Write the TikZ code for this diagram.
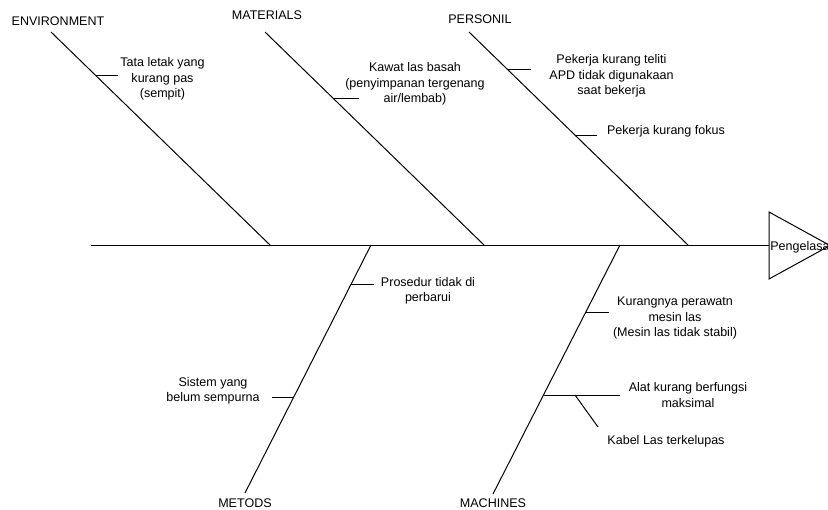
\documentclass[tikz,border=0pt]{standalone}
\usepackage{fontspec}
\setmainfont{Liberation Sans}
\begin{document}
\begin{tikzpicture}[x=0.75pt,y=-0.75pt,
  bone/.style={line width=0.75pt, line cap=butt},
  lbl/.style={font=\fontsize{9.4}{11.6}\selectfont, align=center, inner sep=0pt, text=black}]
\useasboundingbox (0,0) rectangle (828,510);

% spine and head
\coordinate (sp0) at (91,245);
\coordinate (t1) at (769,212);
\coordinate (t2) at (830,245.5);
\coordinate (t3) at (769,279);
\coordinate (sp1) at (769,245);
\draw[bone] (sp0) -- (sp1);
\draw[bone] (t1) -- (t2) -- (t3) -- cycle;
\node[lbl, anchor=west] (head) at (770,247) {Pengelasa};

% bone ends
\coordinate (envA) at (51,32);   \coordinate (envB) at (270,245);
\coordinate (matA) at (265,32);  \coordinate (matB) at (484,245);
\coordinate (perA) at (469,32);  \coordinate (perB) at (688,245);
\coordinate (metA) at (245,493); \coordinate (metB) at (371,245);
\coordinate (macA) at (493,494); \coordinate (macB) at (620,245);
\draw[bone] (envA) -- (envB);
\draw[bone] (matA) -- (matB);
\draw[bone] (perA) -- (perB);
\draw[bone] (metA) -- (metB);
\draw[bone] (macA) -- (macB);

% category labels
\node[lbl] (env) at (58,21) {ENVIRONMENT};
\node[lbl] (mat) at (267,15) {MATERIALS};
\node[lbl] (per) at (480,19) {PERSONIL};
\node[lbl] (met) at (245,503) {METODS};
\node[lbl] (mac) at (493,503) {MACHINES};

% ribs
\coordinate (r1a) at (96,76);    \coordinate (r1b) at (118,76);
\coordinate (r2a) at (334,99);   \coordinate (r2b) at (359,99);
\coordinate (r3a) at (508,70);   \coordinate (r3b) at (531,70);
\coordinate (r4a) at (575,135);  \coordinate (r4b) at (597,135);
\coordinate (r5a) at (351,284);  \coordinate (r5b) at (374,284);
\coordinate (r6a) at (272,397);  \coordinate (r6b) at (294,397);
\coordinate (r7a) at (586,312);  \coordinate (r7b) at (609,312);
\coordinate (r8a) at (543.5,395);\coordinate (r8b) at (620,395);
\coordinate (r9a) at (575,395);  \coordinate (r9b) at (598,427);
\foreach \r in {1,...,9} \draw[bone] (r\r a) -- (r\r b);

% cause labels
\node[lbl] (c1) at (162.5,79) {Tata letak yang\\kurang pas\\(sempit)};
\node[lbl] (c2) at (415,84) {Kawat las basah\\(penyimpanan tergenang\\air/lembab)};
\node[lbl] (c3) at (611.5,76) {Pekerja kurang teliti\\APD tidak digunakaan\\saat bekerja};
\node[lbl] (c4) at (666,131) {Pekerja kurang fokus};
\node[lbl] (c5) at (428,290.5) {Prosedur tidak di\\perbarui};
\node[lbl] (c6) at (213,391) {Sistem yang\\belum sempurna};
\node[lbl] (c7) at (675,318) {Kurangnya perawatn\\mesin las\\(Mesin las tidak stabil)};
\node[lbl] (c8) at (688,395) {Alat kurang berfungsi\\maksimal};
\node[lbl] (c9) at (666,441) {Kabel Las terkelupas};
\end{tikzpicture}
\end{document}
